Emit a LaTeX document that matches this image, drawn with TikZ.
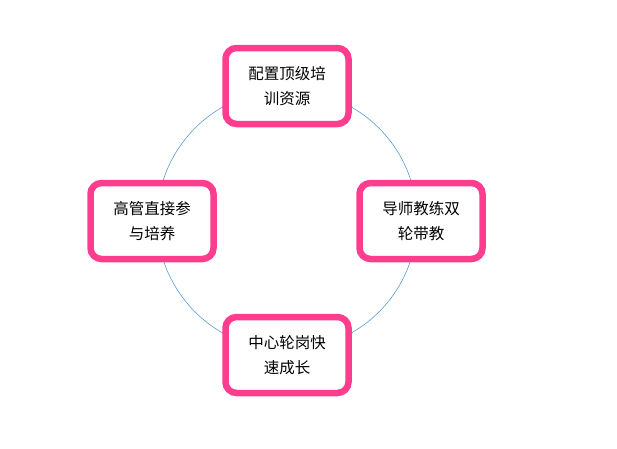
\documentclass[tikz,border=0pt]{standalone}
\usepackage{fontspec}
\setmainfont{Noto Sans CJK SC}
\definecolor{pk}{HTML}{FF3D8E}
\definecolor{bl}{HTML}{5B9BD5}
\begin{document}
\begin{tikzpicture}[x=1pt,y=-1pt,
  box/.style={draw=pk,line width=6.5pt,rounded corners=11pt,fill=white,minimum width=123pt,minimum height=76pt,align=center,font=\fontsize{15.5}{25}\selectfont}]
\useasboundingbox (0,0) rectangle (617,448);
\draw[bl,line width=0.6pt] (287,220) circle (130);
\node[box] (t) at (287,86) {配置顶级培\\训资源};
\node[box] (r) at (421,221) {导师教练双\\轮带教};
\node[box] (l) at (152,221) {高管直接参\\与培养};
\node[box] (b) at (287,355) {中心轮岗快\\速成长};
\end{tikzpicture}
\end{document}
